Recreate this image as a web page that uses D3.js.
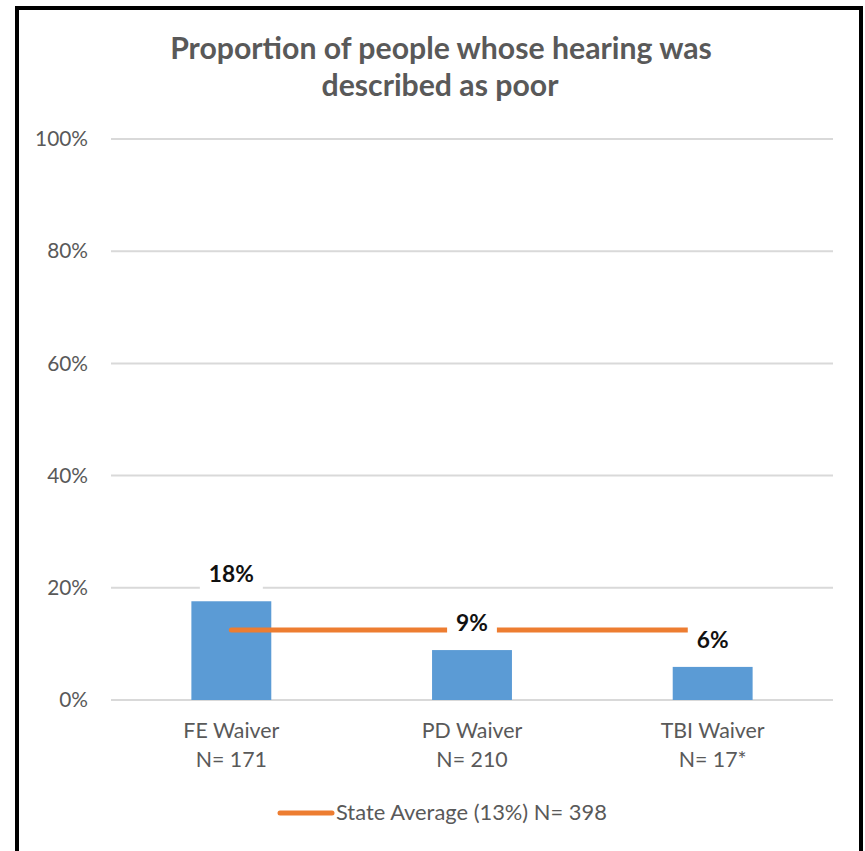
<!DOCTYPE html>
<html>
<head>
<meta charset="utf-8">
<script src="https://cdnjs.cloudflare.com/ajax/libs/d3/7.8.5/d3.min.js"></script>
<style>
  html, body { margin: 0; padding: 0; background: #fff; }
  svg { display: block; }
  text { font-family: Lato, "Open Sans", "Noto Sans", sans-serif; }
</style>
</head>
<body>
<svg id="chart" width="865" height="851"></svg>
<script>
// ---- data ----
const categories = ["FE Waiver", "PD Waiver", "TBI Waiver"];
const sampleSizes = ["N= 171", "N= 210", "N= 17*"];
const values = [0.176, 0.089, 0.059];
const stateAverage = 0.125;
const stateAverageLabel = "State Average (13%) N= 398";
const yTicks = [0, 0.2, 0.4, 0.6, 0.8, 1.0];
const titleLines = ["Proportion of people whose hearing was", "described as poor"];

// ---- layout ----
const svg = d3.select("#chart");
const plot = { left: 111, right: 833, top: 139, bottom: 700 };
const grey = "#595959";

function fitSize(sel, target) {
  sel.style("font-size", "20px");
  const l = sel.node().getComputedTextLength();
  return 20 * target / l;
}

const x = d3.scaleBand().domain(categories)
  .range([plot.left, plot.right]).paddingInner(0.668).paddingOuter(0.334);
const y = d3.scaleLinear().domain([0, 1]).range([plot.bottom, plot.top]);

// border
svg.append("rect").attr("x", 17).attr("y", 8).attr("width", 844).attr("height", 900)
  .attr("fill", "#fff").attr("stroke", "#000").attr("stroke-width", 4);

// title
const title = svg.append("g");
const t1 = title.append("text").text(titleLines[0]).attr("x", 441).attr("y", 59)
  .attr("text-anchor", "middle").attr("font-weight", "bold").attr("fill", grey);
const tSize = fitSize(t1, 542);
t1.style("font-size", tSize + "px");
title.append("text").text(titleLines[1]).attr("x", 440).attr("y", 96)
  .attr("text-anchor", "middle").attr("font-weight", "bold").attr("fill", grey)
  .style("font-size", tSize + "px");

// gridlines
svg.append("g").selectAll("line").data(yTicks).join("line")
  .attr("x1", plot.left).attr("x2", plot.right)
  .attr("y1", d => y(d)).attr("y2", d => y(d))
  .attr("stroke", "#d9d9d9").attr("stroke-width", 2);

// y axis labels
const yAxis = svg.append("g").attr("transform", `translate(${plot.left},0)`)
  .call(d3.axisLeft(y).tickValues(yTicks).tickFormat(d3.format(".0%")).tickSize(0).tickPadding(23));
yAxis.select(".domain").remove();
const probe = yAxis.selectAll("text").filter(d => d === 1);
const ySize = fitSize(probe, 53);
yAxis.selectAll("text").style("font-size", ySize + "px").attr("fill", grey)
  .style("font-family", "Lato, 'Open Sans', sans-serif");

// bars
svg.append("g").selectAll("rect").data(values).join("rect")
  .attr("x", (d, i) => x(categories[i]))
  .attr("width", x.bandwidth())
  .attr("y", d => y(d))
  .attr("height", d => y(0) - y(d))
  .attr("fill", "#5b9bd5");

// state average line
svg.append("line")
  .attr("x1", x(categories[0]) + x.bandwidth() / 2)
  .attr("x2", x(categories[categories.length - 1]) + x.bandwidth() / 2)
  .attr("y1", y(stateAverage)).attr("y2", y(stateAverage))
  .attr("stroke", "#ed7d31").attr("stroke-width", 5).attr("stroke-linecap", "round");

// data labels with white boxes
const lbl = svg.append("g");
let lblSize = null;
values.forEach((v, i) => {
  const cx = x(categories[i]) + x.bandwidth() / 2;
  const base = y(v) - 19;
  const g = lbl.append("g");
  const box = g.append("rect").attr("fill", "#fff");
  const t = g.append("text").text(d3.format(".0%")(v)).attr("x", cx).attr("y", base)
    .attr("text-anchor", "middle").attr("font-weight", "bold").attr("fill", "#111");
  if (lblSize === null) lblSize = fitSize(t, 45);
  t.style("font-size", lblSize + "px");
  const w = t.node().getComputedTextLength();
  box.attr("x", cx - w / 2 - 9).attr("width", w + 18)
    .attr("y", base - lblSize * 0.72 - 7).attr("height", lblSize * 0.72 + 14);
});

// category labels
const cat = svg.append("g");
let cSize = null;
categories.forEach((c, i) => {
  const cx = x(c) + x.bandwidth() / 2;
  const a = cat.append("text").text(c).attr("x", cx).attr("y", 738)
    .attr("text-anchor", "middle").attr("fill", grey);
  if (cSize === null) cSize = fitSize(a, 96);
  a.style("font-size", cSize + "px");
  cat.append("text").text(sampleSizes[i]).attr("x", cx).attr("y", 767)
    .attr("text-anchor", "middle").attr("fill", grey).style("font-size", cSize + "px");
});

// legend
const leg = svg.append("g");
leg.append("line").attr("x1", 280).attr("x2", 332).attr("y1", 813).attr("y2", 813)
  .attr("stroke", "#ed7d31").attr("stroke-width", 5).attr("stroke-linecap", "round");
const lt = leg.append("text").text(stateAverageLabel).attr("x", 336).attr("y", 820)
  .attr("fill", grey);
lt.style("font-size", fitSize(lt, 271) + "px");
</script>
</body>
</html>
